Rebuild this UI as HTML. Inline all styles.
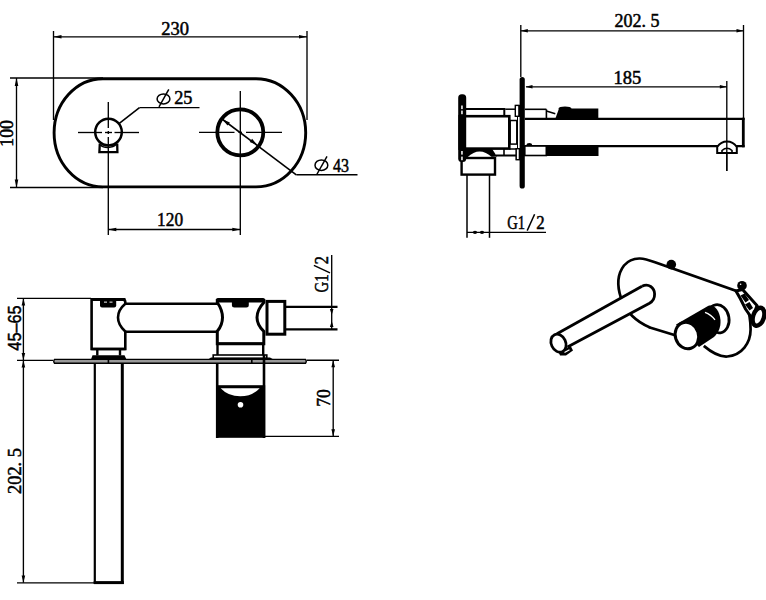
<!DOCTYPE html>
<html><head><meta charset="utf-8"><style>
html,body{margin:0;padding:0;background:#fff;width:766px;height:600px;overflow:hidden}
svg{display:block}
</style></head><body>
<svg width="766" height="600" viewBox="0 0 766 600" stroke="#000" stroke-linecap="butt">
<line x1="53.5" y1="31" x2="53.5" y2="120" stroke-width="1.35"/>
<line x1="307" y1="31" x2="307" y2="120" stroke-width="1.35"/>
<line x1="53.5" y1="36.8" x2="307" y2="36.8" stroke-width="1.35"/>
<path d="M53.50,36.80L61.50,35.00L61.50,38.60Z" fill="#000" stroke="none"/>
<path d="M307.00,36.80L299.00,38.60L299.00,35.00Z" fill="#000" stroke="none"/>
<line x1="10" y1="78" x2="103" y2="78" stroke-width="1.35"/>
<line x1="10" y1="187.5" x2="103" y2="187.5" stroke-width="1.35"/>
<line x1="16.5" y1="78" x2="16.5" y2="187.5" stroke-width="1.35"/>
<path d="M16.50,78.00L18.30,86.00L14.70,86.00Z" fill="#000" stroke="none"/>
<path d="M16.50,187.50L14.70,179.50L18.30,179.50Z" fill="#000" stroke="none"/>
<path d="M103,78.7 L256,78.7 A49.7,54.1 0 0 1 256,186.9 L103,186.9 A48.9,54.1 0 0 1 103,78.7 Z" stroke-width="2.9" fill="none" />
<circle cx="108.5" cy="132.1" r="13.3" stroke-width="2.5" fill="none"/>
<path d="M99.8,143.5 L99.4,152.1 L117.4,152.1 L117.2,143.5" stroke-width="2.3" fill="none" />
<path d="M100.5,145 Q103,147.6 108.3,147.4 Q113.5,147.3 116.4,144.3" stroke-width="1.5" fill="none" />
<circle cx="240.3" cy="132.3" r="23" stroke-width="3.8" fill="none"/>
<line x1="78" y1="132.5" x2="102" y2="132.5" stroke-width="1.35"/>
<line x1="105" y1="132.5" x2="112" y2="132.5" stroke-width="1.35"/>
<line x1="114.5" y1="132.5" x2="139" y2="132.5" stroke-width="1.35"/>
<line x1="108.3" y1="102" x2="108.3" y2="128" stroke-width="1.35"/>
<line x1="108.3" y1="131" x2="108.3" y2="134" stroke-width="1.35"/>
<line x1="108.3" y1="137" x2="108.3" y2="235" stroke-width="1.35"/>
<line x1="199" y1="132.3" x2="234.5" y2="132.3" stroke-width="1.35"/>
<line x1="238.5" y1="132.3" x2="242" y2="132.3" stroke-width="1.35"/>
<line x1="246" y1="132.3" x2="282" y2="132.3" stroke-width="1.35"/>
<line x1="240.3" y1="91" x2="240.3" y2="235" stroke-width="1.35"/>
<line x1="108.3" y1="229.5" x2="240.3" y2="229.5" stroke-width="1.35"/>
<path d="M108.30,229.50L116.30,227.70L116.30,231.30Z" fill="#000" stroke="none"/>
<path d="M240.30,229.50L232.30,231.30L232.30,227.70Z" fill="#000" stroke="none"/>
<line x1="119.3" y1="123.3" x2="139.5" y2="107.6" stroke-width="1.6"/>
<line x1="139.5" y1="107.6" x2="199.5" y2="107.6" stroke-width="1.4"/>
<line x1="222" y1="119" x2="296.3" y2="174.8" stroke-width="1.6"/>
<line x1="296.3" y1="174.8" x2="357.5" y2="174.8" stroke-width="1.4"/>
<path d="M222.30,119.20L229.90,122.40L227.50,125.60Z" fill="#000" stroke="none"/>
<path d="M257.30,145.10L249.70,141.90L252.10,138.70Z" fill="#000" stroke="none"/>
<text x="175" y="34.5" font-size="18.5" font-family="'Liberation Serif', serif" text-anchor="middle" fill="#000" stroke="#000" stroke-width="0.5">230</text>
<text x="170.1" y="226" font-size="18.5" font-family="'Liberation Serif', serif" text-anchor="middle" textLength="26" lengthAdjust="spacingAndGlyphs" fill="#000" stroke="#000" stroke-width="0.5">120</text>
<ellipse cx="163.5" cy="98.9" rx="6.4" ry="5" fill="none" stroke-width="1.5"/>
<line x1="159" y1="106.8" x2="168.8" y2="89.3" stroke-width="1.5"/>
<text x="174.2" y="104.2" font-size="18.3" font-family="'Liberation Serif', serif" text-anchor="start" fill="#000" stroke="#000" stroke-width="0.5">25</text>
<ellipse cx="321.4" cy="165.2" rx="6.4" ry="5.3" fill="none" stroke-width="1.5"/>
<line x1="316.8" y1="174.5" x2="327" y2="156.3" stroke-width="1.5"/>
<text x="333" y="171.6" font-size="18.3" font-family="'Liberation Serif', serif" text-anchor="start" textLength="16" lengthAdjust="spacingAndGlyphs" fill="#000" stroke="#000" stroke-width="0.5">43</text>
<text x="13.3" y="133.4" font-size="18.5" font-family="'Liberation Serif', serif" text-anchor="middle" textLength="26.5" lengthAdjust="spacingAndGlyphs" transform="rotate(-90 13.3 133.4)" fill="#000" stroke="#000" stroke-width="0.5">100</text>
<line x1="520.8" y1="25" x2="520.8" y2="77" stroke-width="1.35"/>
<line x1="743.5" y1="25" x2="743.5" y2="118" stroke-width="1.35"/>
<line x1="520.8" y1="30.8" x2="743.5" y2="30.8" stroke-width="1.35"/>
<path d="M520.80,30.80L527.80,29.10L527.80,32.50Z" fill="#000" stroke="none"/>
<path d="M743.50,30.80L736.50,32.50L736.50,29.10Z" fill="#000" stroke="none"/>
<line x1="526" y1="86.8" x2="726.8" y2="86.8" stroke-width="1.35"/>
<path d="M525.50,86.80L532.50,85.00L532.50,88.60Z" fill="#000" stroke="none"/>
<path d="M726.80,86.80L719.80,88.60L719.80,85.00Z" fill="#000" stroke="none"/>
<line x1="726.8" y1="81" x2="726.8" y2="171" stroke-width="1.35"/>
<text x="637" y="27.2" font-size="18.5" font-family="'Liberation Serif', serif" text-anchor="middle" textLength="45" lengthAdjust="spacingAndGlyphs" fill="#000" stroke="#000" stroke-width="0.5">202. 5</text>
<text x="627.3" y="83.8" font-size="18.5" font-family="'Liberation Serif', serif" text-anchor="middle" textLength="27.8" lengthAdjust="spacingAndGlyphs" fill="#000" stroke="#000" stroke-width="0.5">185</text>
<line x1="467" y1="175" x2="467" y2="237.8" stroke-width="1.5"/>
<line x1="489.5" y1="175" x2="489.5" y2="237.8" stroke-width="1.5"/>
<line x1="467" y1="232.3" x2="546" y2="232.3" stroke-width="1.35"/>
<ellipse cx="475" cy="232.3" rx="2.2" ry="1.6" fill="#000" stroke="none"/>
<ellipse cx="482" cy="232.3" rx="2.2" ry="1.6" fill="#000" stroke="none"/>
<text x="507.3" y="228.9" font-size="18.5" font-family="'Liberation Serif', serif" text-anchor="start" textLength="17.8" lengthAdjust="spacingAndGlyphs" fill="#000" stroke="#000" stroke-width="0.5">G1</text>
<text x="536.3" y="228.9" font-size="18.5" font-family="'Liberation Serif', serif" text-anchor="start" textLength="8.4" lengthAdjust="spacingAndGlyphs" fill="#000" stroke="#000" stroke-width="0.5">2</text>
<line x1="527.2" y1="230.6" x2="534.6" y2="214.2" stroke-width="1.5"/>
<rect x="519.6" y="77" width="5.2" height="111.5" rx="2.6" fill="#000" stroke="none"/>
<rect x="516.4" y="105.6" width="3.2" height="10.6" fill="#fff" stroke-width="1.3"/>
<rect x="516.4" y="148.8" width="3.2" height="10.6" fill="#fff" stroke-width="1.3"/>
<line x1="517.5" y1="116" x2="517.5" y2="149" stroke-width="1"/>
<rect x="459.7" y="116.2" width="49.6" height="32.4" fill="#fff" stroke-width="2.6"/>
<line x1="466" y1="109" x2="505.4" y2="109" stroke-width="2.2"/>
<line x1="504.3" y1="109" x2="504.3" y2="116" stroke-width="2"/>
<line x1="505.4" y1="109.2" x2="515.3" y2="109.2" stroke-width="1.5"/>
<rect x="515.3" y="105.4" width="3.6" height="10.9" fill="#fff" stroke-width="1.4"/>
<rect x="510.2" y="120.5" width="6.6" height="23.6" fill="#fff" stroke-width="1.5"/>
<line x1="509.3" y1="149" x2="516" y2="149" stroke-width="1.5"/>
<line x1="496" y1="155.5" x2="516" y2="155.5" stroke-width="2"/>
<line x1="504" y1="149" x2="504" y2="156" stroke-width="1.6"/>
<rect x="516.2" y="148.7" width="3.2" height="11" fill="#fff" stroke-width="1.4"/>
<path d="M466,148 L491.5,148 L497,156.5 L466,158.7 Z" stroke-width="0" fill="#000" stroke="none"/>
<path d="M467.5,157.2 Q479.5,146 492,157.2 Z" stroke-width="0" fill="#fff" stroke="none"/>
<rect x="461.6" y="158" width="33.4" height="16.6" fill="#fff" stroke-width="2.4"/>
<rect x="458.2" y="94.2" width="8" height="67.8" rx="3.5" fill="#000" stroke="none"/>
<rect x="461" y="105.5" width="1.9" height="3.6" fill="#ccc" stroke="none"/>
<rect x="461" y="110.6" width="1.9" height="3.6" fill="#ccc" stroke="none"/>
<rect x="461" y="151" width="1.9" height="3.6" fill="#ccc" stroke="none"/>
<rect x="461" y="156.6" width="1.9" height="3.6" fill="#ccc" stroke="none"/>
<line x1="524.8" y1="118.8" x2="744.6" y2="118.8" stroke-width="2.2"/>
<line x1="524.8" y1="146.2" x2="744.6" y2="146.2" stroke-width="2.2"/>
<line x1="743.3" y1="117.8" x2="743.3" y2="147.3" stroke-width="2.8"/>
<line x1="524.8" y1="109.3" x2="546.4" y2="109.3" stroke-width="1.6"/>
<line x1="546.4" y1="109.3" x2="546.4" y2="118.5" stroke-width="1.6"/>
<line x1="546.4" y1="111" x2="555.3" y2="113.8" stroke-width="1.5"/>
<path d="M555.3,118.8 L559,108.5 L598.3,108.5 L598.3,118.8 Z" stroke-width="0" fill="#000" stroke="none"/>
<ellipse cx="565" cy="108.5" rx="6.5" ry="2" fill="#000" stroke="none"/>
<rect x="524.8" y="146" width="21.5" height="9.5" fill="#fff" stroke-width="1.6"/>
<rect x="546.3" y="146" width="52.2" height="10" fill="#000" stroke="none"/>
<ellipse cx="529.3" cy="144.6" rx="2.8" ry="1.5" fill="#000" stroke="none"/>
<path d="M717.2,153 L717.2,147 Q721,141.5 727,141.5 Q733,141.5 736.8,147 L736.8,153 Z" stroke-width="2" fill="#fff" />
<path d="M722,152.5 L722,150.5 Q727,146 732,150.5 L732,152.5" stroke-width="1.6" fill="none" />
<line x1="726.8" y1="141" x2="726.8" y2="171" stroke-width="1.35"/>
<line x1="17" y1="298.4" x2="91" y2="298.4" stroke-width="1.35"/>
<line x1="17" y1="360.3" x2="53" y2="360.3" stroke-width="1.35"/>
<line x1="17" y1="582.8" x2="95" y2="582.8" stroke-width="1.35"/>
<line x1="23.4" y1="298.4" x2="23.4" y2="582.8" stroke-width="1.35"/>
<path d="M23.40,298.60L25.20,305.60L21.60,305.60Z" fill="#000" stroke="none"/>
<path d="M23.40,360.00L21.60,353.00L25.20,353.00Z" fill="#000" stroke="none"/>
<path d="M23.40,360.60L25.20,367.60L21.60,367.60Z" fill="#000" stroke="none"/>
<path d="M23.40,582.60L21.60,575.60L25.20,575.60Z" fill="#000" stroke="none"/>
<text x="20.5" y="328" font-size="18.5" font-family="'Liberation Sans', serif" text-anchor="middle" textLength="45.4" lengthAdjust="spacingAndGlyphs" transform="rotate(-90 20.5 328)" fill="#000" stroke="#000" stroke-width="0.5">45–65</text>
<text x="20.6" y="471" font-size="18.5" font-family="'Liberation Serif', serif" text-anchor="middle" textLength="46" lengthAdjust="spacingAndGlyphs" transform="rotate(-90 20.6 471)" fill="#000" stroke="#000" stroke-width="0.5">202. 5</text>
<path d="M54.5,359.4 L305.5,359.4 Q307,361.3 305.5,363.2 L54.5,363.2 Q53,361.3 54.5,359.4 Z" stroke-width="1.4" fill="#999" />
<rect x="107.6" y="359.6" width="1.6" height="3.4" fill="#000" stroke="none"/>
<rect x="251" y="359.6" width="1.6" height="3.4" fill="#000" stroke="none"/>
<path d="M91.6,349 L91.6,299.5 L122.5,299.5 Q125.3,299.5 125.3,302.3 L125.3,303.8 Q118,310 118,317.5 Q118,325 125.3,331.4 L125.3,349 Z" stroke-width="2.6" fill="#fff" />
<line x1="91" y1="299.4" x2="125.5" y2="299.4" stroke-width="3"/>
<path d="M100,299.5 L116.2,299.5 L116.2,305.5 Q116.2,307.5 114.2,307.5 L102,307.5 Q100,307.5 100,305.5 Z" stroke-width="0" fill="#000" stroke="none"/>
<rect x="104" y="301.5" width="3" height="1.3" fill="#bbb" stroke="none"/>
<rect x="109.5" y="301.5" width="3" height="1.3" fill="#bbb" stroke="none"/>
<line x1="91.3" y1="349" x2="125.6" y2="349" stroke-width="2.4"/>
<line x1="97.3" y1="349" x2="97.3" y2="355.5" stroke-width="2.4"/>
<line x1="120" y1="349" x2="120" y2="355.5" stroke-width="2.4"/>
<path d="M91,359.4 L92.5,355.3 L124.5,355.3 L126.5,359.4 Z" stroke-width="0" fill="#000" stroke="none"/>
<line x1="124.5" y1="303.8" x2="218.5" y2="303.8" stroke-width="2.5"/>
<line x1="124.5" y1="331.7" x2="218.5" y2="331.7" stroke-width="2.5"/>
<path d="M217.3,343.7 L217.3,331.3 Q222.5,325 222.5,317.5 Q222.5,310 217.3,302.5 L217.3,300.5 L263.8,300.5 L263.8,302.5 Q257,310 257,317.5 Q257,325 263.8,331.3 L263.8,343.7 Z" stroke-width="3" fill="#fff" />
<rect x="216" y="298" width="49" height="4.4" rx="1.8" fill="#000" stroke="none"/>
<path d="M231.9,300 L248.8,300 L248.8,305 Q248.8,307.5 246.3,307.5 L234.4,307.5 Q231.9,307.5 231.9,305 Z" stroke-width="0" fill="#000" stroke="none"/>
<line x1="216" y1="343.7" x2="265" y2="343.7" stroke-width="2.6"/>
<line x1="217.5" y1="343.7" x2="217.5" y2="355.3" stroke-width="2.4"/>
<line x1="263.2" y1="343.7" x2="263.2" y2="355.3" stroke-width="2.4"/>
<path d="M208,359.5 L211,357.6 L270,357.6 L273.5,359.5 Z" stroke-width="0" fill="#000" stroke="none"/>
<rect x="213.2" y="355" width="53.6" height="3.2" fill="#fff" stroke-width="1.6"/>
<rect x="267" y="301.4" width="17.8" height="32.8" fill="#fff" stroke-width="3"/>
<line x1="285" y1="306.8" x2="337.5" y2="306.8" stroke-width="2.2"/>
<line x1="285" y1="329.3" x2="337.5" y2="329.3" stroke-width="2.2"/>
<line x1="331.7" y1="255" x2="331.7" y2="329.3" stroke-width="1.35"/>
<path d="M331.7,315 L329.9,309 L333.5,309 Z" fill="#000" stroke="none"/>
<path d="M331.7,321 L329.9,327 L333.5,327 Z" fill="#000" stroke="none"/>
<text x="328.4" y="292.6" font-size="18.5" font-family="'Liberation Serif', serif" text-anchor="start" textLength="18.2" lengthAdjust="spacingAndGlyphs" transform="rotate(-90 328.4 292.6)" fill="#000" stroke="#000" stroke-width="0.5">G1</text>
<text x="328.4" y="264.2" font-size="18.5" font-family="'Liberation Serif', serif" text-anchor="start" textLength="8.2" lengthAdjust="spacingAndGlyphs" transform="rotate(-90 328.4 264.2)" fill="#000" stroke="#000" stroke-width="0.5">2</text>
<line x1="313.9" y1="265.4" x2="330" y2="272.9" stroke-width="1.5"/>
<line x1="94.8" y1="363.3" x2="94.8" y2="583.5" stroke-width="2.2"/>
<line x1="122.3" y1="363.3" x2="122.3" y2="584" stroke-width="3"/>
<line x1="93.7" y1="582.6" x2="123.8" y2="582.6" stroke-width="3"/>
<line x1="217.2" y1="363.3" x2="217.2" y2="438" stroke-width="2.6"/>
<line x1="264" y1="355" x2="264" y2="438" stroke-width="2.6"/>
<rect x="216" y="385.2" width="49.2" height="52.6" fill="#000" stroke="none"/>
<path d="M220.6,388.2 L259.7,388.2 Q252,396.3 240.2,396.3 Q228.3,396.3 220.6,388.2 Z" stroke-width="0" fill="#fff" stroke="none"/>
<circle cx="240.5" cy="404.8" r="2.8" fill="#fff" stroke="none"/>
<line x1="306.7" y1="360.2" x2="339" y2="360.2" stroke-width="1.35"/>
<line x1="264.6" y1="436.4" x2="339" y2="436.4" stroke-width="1.35"/>
<line x1="333.2" y1="360.3" x2="333.2" y2="436.3" stroke-width="1.35"/>
<path d="M333.20,360.30L335.00,367.30L331.40,367.30Z" fill="#000" stroke="none"/>
<path d="M333.20,436.30L331.40,429.30L335.00,429.30Z" fill="#000" stroke="none"/>
<text x="330.4" y="398" font-size="18.5" font-family="'Liberation Serif', serif" text-anchor="middle" textLength="17.6" lengthAdjust="spacingAndGlyphs" transform="rotate(-90 330.4 398)" fill="#000" stroke="#000" stroke-width="0.5">70</text>
<path d="M650,327.5 C637,322 626,312 621,298 C617,286 617.5,274 624,265.5 C629,259.5 634,258.3 640,258.5 C645,258.7 650,260.5 655,262.3 L735.7,290.8 C745,298 750.5,312 750.6,329.6 C750.5,343 742,355.5 727.2,356.5 C719,357 711,352 703.8,345.9" stroke-width="2.7" fill="none" />
<line x1="649" y1="327.2" x2="676" y2="335.5" stroke-width="2.7"/>
<circle cx="671.3" cy="264.6" r="4.8" fill="#000" stroke="none"/>
<path d="M642,286.3 L557,333.8 L549,346 L567.5,347 L649.5,303.2 C652.5,301.5 654.7,298.5 654.6,294 C654.5,287.5 648.5,283 642,286.3 Z" stroke-width="0" fill="#fff" stroke="none"/>
<path d="M642,286.3 C648.5,283 654.5,287.5 654.6,294 C654.7,298.5 652.5,301.5 649.5,303.2 L567.5,347" stroke-width="2.8" fill="none" />
<line x1="642" y1="286.3" x2="557" y2="333.8" stroke-width="2.8"/>
<ellipse cx="558.5" cy="343.2" rx="7.2" ry="9.4" transform="rotate(-25 558.5 343.2)" fill="#fff" stroke-width="2.8"/>
<path d="M559,353 L570.5,345.5 L573,350.5 L566,355.5 L560,355.5 Z" stroke-width="0" fill="#000" stroke="none"/>
<path d="M564.5,352.5 L569.5,349.8" stroke="#fff" stroke-width="1.3"/>
<ellipse cx="718" cy="318.8" rx="11" ry="14.2" transform="rotate(-10 718 318.8)" fill="#fff" stroke-width="2.8"/>
<path d="M676,324.5 L708,306 C714,304 719.5,310 720.5,320 C721,328 718,333 714,337 L699,347 Z" stroke-width="0" fill="#000" stroke="none"/>
<path d="M705,312.3 Q711,314.5 715,319.8" stroke="#fff" stroke-width="1.3" fill="none"/>
<ellipse cx="686.9" cy="335.5" rx="11.6" ry="13.4" transform="rotate(-18 686.9 335.5)" fill="#fff" stroke-width="3"/>
<path d="M736,291 L742.5,289.5 L757,305.5 L752.5,319 L745.5,309 L740.5,299 Z" stroke-width="3" fill="#fff" />
<path d="M740.5,295.5 L744.5,293.5 L749,300 L745.5,302.5 Z" stroke-width="0" fill="#000" stroke="none"/>
<path d="M745,304.5 L749.5,302 L753,308 L749.5,310.5 Z" stroke-width="0" fill="#000" stroke="none"/>
<circle cx="742" cy="285.7" r="4.8" fill="#000" stroke="none"/>
<circle cx="740.6" cy="284.3" r="0.8" fill="#fff" stroke="none"/>
<ellipse cx="758.5" cy="316.8" rx="5.4" ry="9.3" transform="rotate(18 758.5 316.8)" fill="#fff" stroke-width="4.4"/>
</svg>
</body></html>
